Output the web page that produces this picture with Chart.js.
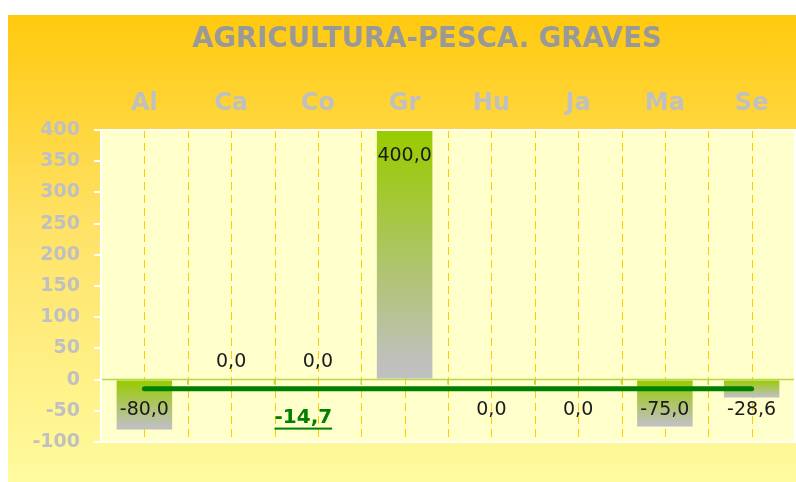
<!DOCTYPE html>
<html lang="es">
<head>
    <meta charset="UTF-8">
    <title>Agricultura-Pesca. Graves</title>
    <script src="https://cdn.jsdelivr.net/npm/chart.js"></script>
    <style>
        body {
            margin: 0;
            background: #ffffff;
        }

        .marco {
            position: absolute;
            left: 8px;
            top: 15px;
            width: 788px;
            height: 467px;
            background: linear-gradient(to bottom, #FFC90E 0%, #FFE266 45%, #FFFB9E 100%);
        }
    </style>
</head>
<body>

    <div class="marco">
        <canvas id="graves" width="788" height="467"></canvas>
    </div>

    <script>
        const titulo = 'AGRICULTURA-PESCA. GRAVES';
        const provincias = ['Al', 'Ca', 'Co', 'Gr', 'Hu', 'Ja', 'Ma', 'Se'];
        // Hu y Ja salen como "0,0" por debajo del eje, por eso van como -0
        const variacion = [-80.0, 0.0, 0.0, 400.0, -0, -0, -75.0, -28.6];
        const mediaAndalucia = [-14.7, -14.7, -14.7, -14.7, -14.7, -14.7, -14.7, -14.7];
        const ticksY = [-100, -50, 0, 50, 100, 150, 200, 250, 300, 350, 400];

        const fuente = '"DejaVu Sans", Verdana, sans-serif';

        function fmt(v) {
            return v.toFixed(1).replace('.', ',');
        }

        function gradienteBarra(c) {
            const chart = c.chart;
            if (!chart.chartArea || c.type !== 'data') return '#C0C0C0';
            const y = chart.scales.y;
            const y0 = y.getPixelForValue(0);
            const y1 = y.getPixelForValue(c.raw);
            const top = Math.min(y0, y1), bot = Math.max(y0, y1);
            if (bot - top < 1) return '#C0C0C0';
            const g = chart.ctx.createLinearGradient(0, top, 0, bot);
            g.addColorStop(0, '#99CC00');
            g.addColorStop(0.1, '#9CCA10');
            g.addColorStop(0.95, '#C0C0C0');
            g.addColorStop(1, '#C0C0C0');
            return g;
        }

        // fondo del area, lineas discontinuas y linea del cero
        const fondo = {
            id: 'fondo',
            beforeDatasetsDraw(chart) {
                const { ctx, chartArea: a, scales: { x, y } } = chart;
                ctx.save();
                ctx.fillStyle = '#FFFFCC';
                ctx.fillRect(a.left, a.top, a.width, a.height);

                ctx.strokeStyle = '#FFCC00';
                ctx.lineWidth = 1;
                ctx.setLineDash([8, 5]);
                for (let i = 0; i < provincias.length; i++) {
                    const xs = [x.getPixelForValue(i)];
                    if (i > 0) xs.push((x.getPixelForValue(i - 1) + x.getPixelForValue(i)) / 2);
                    xs.forEach(px => {
                        const p = Math.round(px) + 0.5;
                        ctx.beginPath();
                        ctx.moveTo(p, a.top);
                        ctx.lineTo(p, a.bottom);
                        ctx.stroke();
                    });
                }
                ctx.setLineDash([]);

                const y0 = y.getPixelForValue(0);
                ctx.strokeStyle = '#B4D84A';
                ctx.lineWidth = 1.5;
                ctx.beginPath();
                ctx.moveTo(a.left, y0);
                ctx.lineTo(a.right, y0);
                for (let i = 0; i <= provincias.length; i++) {
                    const px = i === 0 ? a.left : i === provincias.length ? a.right
                        : (x.getPixelForValue(i - 1) + x.getPixelForValue(i)) / 2;
                    ctx.moveTo(px, y0);
                    ctx.lineTo(px, y0 + 5);
                }
                ctx.stroke();
                ctx.restore();
            },
            afterDatasetsDraw(chart) {
                const { ctx, chartArea: a, scales: { x, y } } = chart;
                ctx.save();
                ctx.strokeStyle = '#FFFFFF';
                ctx.lineWidth = 2;
                ctx.strokeRect(a.left, a.top, a.width, a.height);

                // etiquetas de valores
                const y0 = y.getPixelForValue(0);
                ctx.font = '19px ' + fuente;
                ctx.fillStyle = '#1a1a1a';
                ctx.textAlign = 'center';
                ctx.textBaseline = 'middle';
                variacion.forEach((v, i) => {
                    const px = x.getPixelForValue(i);
                    const fin = y.getPixelForValue(v);
                    let py;
                    if (v > 0) py = fin + 26;
                    else if (v === 0 && !Object.is(v, -0)) py = fin - 18;
                    else py = Math.max(fin - 20, y0 + 30);
                    ctx.fillText(fmt(v), px, py);
                });

                // media
                const media = mediaAndalucia[0];
                const texto = fmt(media);
                ctx.font = 'bold 20px ' + fuente;
                ctx.fillStyle = '#008000';
                ctx.textAlign = 'left';
                const lx = (x.getPixelForValue(1) + x.getPixelForValue(2)) / 2;
                const ly = y0 + 38;
                ctx.fillText(texto, lx, ly);
                const w = ctx.measureText(texto).width;
                ctx.fillRect(lx, ly + 10, w, 2);

                // titulo, algo desplazado a la derecha como en el original
                ctx.font = 'bold 27.5px ' + fuente;
                ctx.fillStyle = '#999999';
                ctx.textAlign = 'center';
                ctx.fillText(titulo, chart.width / 2 + 25, 25);
                ctx.restore();
            }
        };

        new Chart(document.getElementById('graves'), {
            data: {
                labels: provincias,
                datasets: [
                    {
                        type: 'line',
                        data: mediaAndalucia,
                        borderColor: '#008000',
                        borderWidth: 5,
                        borderCapStyle: 'round',
                        pointRadius: 0,
                        order: 0
                    },
                    {
                        type: 'bar',
                        data: variacion,
                        backgroundColor: gradienteBarra,
                        barPercentage: 0.64,
                        categoryPercentage: 1,
                        order: 1
                    }
                ]
            },
            options: {
                responsive: false,
                animation: false,
                devicePixelRatio: 1,
                layout: { padding: { top: 42.4, left: 0, right: 1, bottom: 40 } },
                plugins: {
                    legend: { display: false },
                    tooltip: { enabled: false },
                    title: { display: false }
                },
                scales: {
                    x: {
                        position: 'top',
                        offset: true,
                        grid: { display: false },
                        border: { display: false },
                        ticks: {
                            color: '#C0C0C0',
                            font: { family: fuente, size: 24, weight: 'bold' },
                            padding: 4
                        },
                        afterFit(s) { s.height = 72.6; }
                    },
                    y: {
                        min: -100,
                        max: 400,
                        afterBuildTicks(s) { s.ticks = ticksY.map(v => ({ value: v })); },
                        ticks: {
                            color: '#C0C0C0',
                            font: { family: fuente, size: 19, weight: 'bold' },
                            padding: 14
                        },
                        grid: {
                            drawOnChartArea: false,
                            drawTicks: true,
                            tickLength: 7,
                            color: '#FFFFFF',
                            lineWidth: 2
                        },
                        border: { color: '#FFFFFF', width: 2 },
                        afterFit(s) { s.width = 93; }
                    }
                }
            },
            plugins: [fondo]
        });
    </script>

</body>
</html>
